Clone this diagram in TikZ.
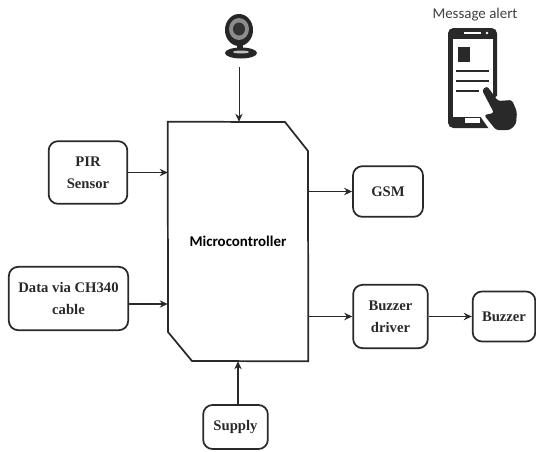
\documentclass[tikz,border=0pt]{standalone}
\usepackage{xcolor}
\usepackage{fontspec}
\setmainfont{Liberation Serif}
\newfontfamily\labelfont{Carlito}
\usetikzlibrary{arrows.meta}
\definecolor{inkgray}{rgb}{0.16,0.16,0.16}
\tikzset{
  blockbox/.style={draw=inkgray,line width=1.3pt,rounded corners=7pt,align=center,inner sep=0pt,font=\bfseries\fontsize{11}{16.8}\selectfont,text=inkgray},
  flowline/.style={draw=inkgray,line width=1.3pt,-{Stealth[length=6pt,width=5.5pt]}},
}
\begin{document}
\begin{tikzpicture}[x=0.75pt,y=0.75pt,yscale=-1,xscale=1]
\useasboundingbox (0,0) rectangle (536,451);

%Text Node
\node (mcu) [minimum width=105pt,minimum height=179.25pt,inner sep=0pt,font=\fontsize{11.2}{13}\selectfont\labelfont\bfseries] at (238,241.5) {Microcontroller};
%Shape: Chip
\draw [draw=inkgray,line width=1.3pt] (mcu.north west) -- (285,122) -- (308,151) -- (mcu.south east) -- (192,361) -- (168,332) -- cycle;

%Blocks
\node (pir) [blockbox,minimum width=59pt,minimum height=47pt] at (88,172.5) {PIR\\Sensor};
\node (data) [blockbox,minimum width=89.5pt,minimum height=47.5pt] at (68.5,298.5) {Data via CH340\\cable};
\node (gsm) [blockbox,minimum width=52.5pt,minimum height=38pt] at (388,191.5) {GSM};
\node (driver) [blockbox,minimum width=56pt,minimum height=47.5pt] at (390.5,316.5) {Buzzer\\driver};
\node (buzzer) [blockbox,minimum width=47pt,minimum height=37.5pt] at (504,316.5) {Buzzer};
\node (supply) [blockbox,minimum width=48.5pt,minimum height=33pt] at (235.5,427) {Supply};

%Webcam
\coordinate (camout) at (239,67);
\fill [black!85] (241,53) ellipse (16 and 5.5);
\fill [black!85] (237,42) rectangle (243,52);
\fill [gray!50] (241,52) ellipse (8 and 1.5);
\fill [black!85] (239,30) ellipse (14 and 16);
\fill [black!45] (239,29) ellipse (10 and 11);
\fill [black!80] (239,29) ellipse (6 and 6.5);

%Phone
\fill [inkgray,rounded corners=4pt] (448,28) rectangle (497,128);
\fill [white] (453,39) rectangle (493,117);
\fill [inkgray] (458,47) rectangle (470,62);
\draw [inkgray,line width=1.6pt] (456,71) -- (489,71) (456,81) -- (489,81) (456,91) -- (479,91);
\fill [white] (465,118) rectangle (480,123);
\draw [white,line width=0.9pt] (464,33) -- (481,33);
\fill [white] (487,33) circle (1.3);
\fill [white] (478,113) -- (497,96) -- (520,96) -- (522,133) -- (492,133) -- cycle;
\fill [inkgray,rounded corners=2pt] (482,90) -- (487,86) -- (498,101) -- (512,100) -- (517,112) -- (516,124) -- (510,130) -- (496,130) -- (484,115) -- (494,113) -- cycle;

%Alert text
\node (alert) [inner sep=0pt,text=black!75,font=\fontsize{11.2}{13}\selectfont\labelfont] at (475,14.5) {Message alert};

%Connectors
\draw [flowline,line width=0.75pt] (camout) -- (camout |- mcu.north);
\draw [flowline] (pir.east) -- (pir.east -| mcu.west);
\draw [flowline] (data.east |- 0,304) -- (mcu.west |- 0,304);
\draw [flowline] (supply.north -| mcu.center) -- (mcu.south);
\draw [flowline] (mcu.east |- gsm) -- (gsm.west);
\draw [flowline] (mcu.east |- driver) -- (driver.west);
\draw [flowline] (driver.east) -- (buzzer.west);
\end{tikzpicture}
\end{document}
